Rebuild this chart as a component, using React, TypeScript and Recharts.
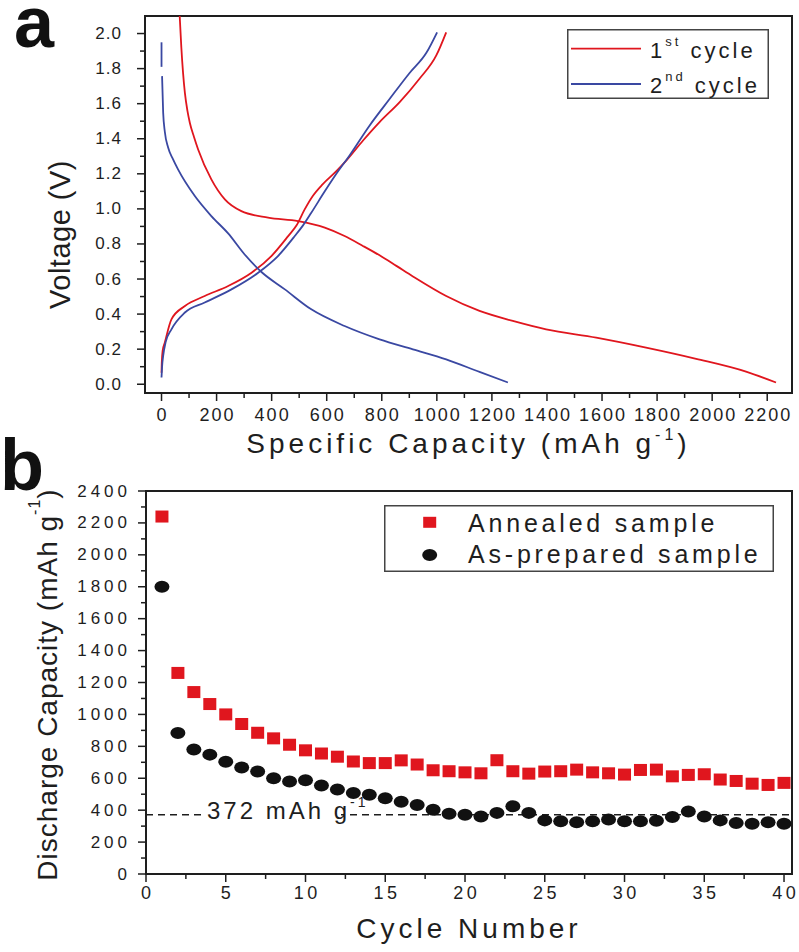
import React from 'react'
import {
  LineChart,
  Line,
  ComposedChart,
  Scatter,
  XAxis,
  YAxis,
  ReferenceArea,
  ReferenceLine,
  Legend,
} from 'recharts'

const FONT = '"Liberation Sans", Arial, Helvetica, sans-serif'
const INK = '#1e1e1e'
const RED = '#e0161e'
const BLUE = '#3a48a2'

// ---- panel a: charge / discharge profiles (mAh g-1 vs V)
const dis1Cap = [66, 72, 78, 85, 94, 103, 118, 133, 181, 230, 290, 387, 496, 593, 665, 730, 792, 853, 913, 1034, 1155, 1276, 1397, 1579, 1760, 1942, 2123, 2232]
const dis1V = [2.1, 1.92, 1.78, 1.66, 1.56, 1.49, 1.41, 1.339, 1.168, 1.054, 0.987, 0.95, 0.93, 0.893, 0.845, 0.79, 0.735, 0.675, 0.615, 0.503, 0.418, 0.361, 0.313, 0.266, 0.209, 0.145, 0.072, 0.01]
const cha1Cap = [0, 1, 4, 12, 36, 85, 157, 242, 327, 399, 460, 490, 520, 550, 585, 635, 671, 732, 792, 865, 937, 998, 1034]
const cha1V = [0.065, 0.124, 0.19, 0.238, 0.37, 0.446, 0.503, 0.56, 0.636, 0.731, 0.845, 0.905, 0.997, 1.075, 1.14, 1.215, 1.275, 1.39, 1.495, 1.609, 1.742, 1.875, 2.007]
const dis2Cap = [2, 6, 12, 24, 42, 60, 121, 181, 242, 302, 363, 448, 544, 665, 792, 913, 1034, 1155, 1258]
const dis2V = [1.757, 1.548, 1.44, 1.35, 1.282, 1.225, 1.073, 0.959, 0.86, 0.74, 0.64, 0.541, 0.427, 0.332, 0.256, 0.199, 0.142, 0.07, 0.01]
const dis2HeadCap = [0, 0]
const dis2HeadV = [1.95, 1.81]
const cha2Cap = [0, 2, 6, 15, 36, 85, 157, 254, 351, 423, 484, 514, 544, 593, 635, 683, 756, 829, 901, 962, 1001]
const cha2V = [0.038, 0.1, 0.161, 0.24, 0.313, 0.409, 0.466, 0.541, 0.636, 0.731, 0.845, 0.906, 0.978, 1.1, 1.2, 1.305, 1.476, 1.628, 1.775, 1.89, 2.007]

const capTicks = [0, 100, 200, 300, 400, 500, 600, 700, 800, 900, 1000, 1100, 1200, 1300, 1400, 1500, 1600, 1700, 1800, 1900, 2000, 2100, 2200]
const voltTicks = [0, 0.1, 0.2, 0.3, 0.4, 0.5, 0.6, 0.7, 0.8, 0.9, 1.0, 1.1, 1.2, 1.3, 1.4, 1.5, 1.6, 1.7, 1.8, 1.9, 2.0]

// ---- panel b: cycling
const cycles = [1, 2, 3, 4, 5, 6, 7, 8, 9, 10, 11, 12, 13, 14, 15, 16, 17, 18, 19, 20, 21, 22, 23, 24, 25, 26, 27, 28, 29, 30, 31, 32, 33, 34, 35, 36, 37, 38, 39, 40]
const annealedCap = [2240, 1260, 1140, 1065, 1000, 940, 885, 850, 810, 775, 755, 735, 705, 695, 695, 712, 686, 650, 644, 637, 631, 713, 644, 629, 642, 644, 654, 637, 631, 623, 652, 654, 612, 621, 625, 592, 583, 566, 558, 571]
const preparedCap = [1800, 884, 780, 748, 704, 667, 642, 600, 579, 587, 554, 529, 508, 497, 474, 453, 433, 403, 378, 372, 361, 383, 424, 383, 336, 330, 324, 330, 341, 330, 330, 334, 357, 391, 361, 336, 320, 315, 324, 315]
const graphiteLimit = 372

const cycleTicks = [0, 2.5, 5, 7.5, 10, 12.5, 15, 17.5, 20, 22.5, 25, 27.5, 30, 32.5, 35, 37.5, 40]
const dcapTicks = [0, 100, 200, 300, 400, 500, 600, 700, 800, 900, 1000, 1100, 1200, 1300, 1400, 1500, 1600, 1700, 1800, 1900, 2000, 2100, 2200, 2300, 2400]

const zip = (xs: number[], ys: number[]) => xs.map((x, i) => ({ x, y: ys[i] }))

function axisTick(
  side: 'left' | 'bottom',
  isMajor: (v: number) => boolean,
  fmt: (v: number) => string,
  fontSize: number,
  spacing: number,
  gap: number,
) {
  return function Tick(props: any) {
    const { x, y, payload } = props
    const v = payload.value as number
    const major = isMajor(v)
    const len = major ? 8 : 5
    const txt = { fontFamily: FONT, fontSize, letterSpacing: spacing, fill: INK }
    if (side === 'left') {
      return (
        <g>
          <line x1={x - len} y1={y} x2={x} y2={y} stroke={INK} strokeWidth={1.5} />
          {major && (
            <text x={x - gap + spacing} y={y} textAnchor="end" dominantBaseline="central" {...txt}>
              {fmt(v)}
            </text>
          )}
        </g>
      )
    }
    return (
      <g>
        <line x1={x} y1={y} x2={x} y2={y + len} stroke={INK} strokeWidth={1.5} />
        {major && (
          <text x={x + spacing / 2} y={y + gap} textAnchor="middle" dominantBaseline="central" {...txt}>
            {fmt(v)}
          </text>
        )}
      </g>
    )
  }
}

function XTitle({ viewBox, text, dy, spacing }: any) {
  const cx = viewBox.x + viewBox.width / 2
  return (
    <text x={cx} y={viewBox.y + dy} textAnchor="middle" fontFamily={FONT} fontSize={28} letterSpacing={spacing} fill={INK}>
      {text}
    </text>
  )
}

function YTitle({ viewBox, cx, shift, fontSize, spacing, children }: any) {
  const cy = viewBox.y + viewBox.height / 2 + shift
  return (
    <text
      x={cx}
      y={cy}
      transform={`rotate(-90, ${cx}, ${cy})`}
      textAnchor="middle"
      dominantBaseline="central"
      fontFamily={FONT}
      fontSize={fontSize}
      letterSpacing={spacing}
      fill={INK}
    >
      {children}
    </text>
  )
}

function LegendA() {
  return (
    <svg width={202} height={70} style={{ display: 'block' }}>
      <rect x={0.75} y={0.75} width={200.5} height={68.5} fill="#fff" stroke="#444" strokeWidth={1.5} />
      <line x1={4} x2={74} y1={19.7} y2={19.7} stroke={RED} strokeWidth={1.8} />
      <line x1={4} x2={74} y1={55} y2={55} stroke={BLUE} strokeWidth={1.8} />
      <text x={83} y={29.3} fontFamily={FONT} fontSize={22} letterSpacing={3} fill={INK}>
        1<tspan fontSize={13} dy={-12}>st</tspan>
        <tspan dy={12}> cycle</tspan>
      </text>
      <text x={83} y={64.3} fontFamily={FONT} fontSize={22} letterSpacing={3} fill={INK}>
        2<tspan fontSize={13} dy={-12}>nd</tspan>
        <tspan dy={12}> cycle</tspan>
      </text>
    </svg>
  )
}

function LegendB() {
  return (
    <svg width={390} height={67} style={{ display: 'block' }}>
      <rect x={0.75} y={0.75} width={388.5} height={65.5} fill="#fff" stroke="#444" strokeWidth={1.5} />
      <rect x={39.2} y={11.8} width={13} height={11} fill={RED} />
      <ellipse cx={45.7} cy={50} rx={7.5} ry={6} fill="#111" />
      <text x={84} y={26.7} fontFamily={FONT} fontSize={25} letterSpacing={3.8} fill={INK}>Annealed sample</text>
      <text x={84} y={58.3} fontFamily={FONT} fontSize={25} letterSpacing={3.8} fill={INK}>As-prepared sample</text>
    </svg>
  )
}

const Square = (p: any) => <rect x={p.cx - 6.5} y={p.cy - 6} width={13} height={12} fill={RED} />
const Blob = (p: any) => <ellipse cx={p.cx} cy={p.cy} rx={7.5} ry={6} fill="#111" />

function LimitLabel({ viewBox }: any) {
  const x0 = viewBox.x + 55
  const y0 = viewBox.y
  return (
    <g>
      <rect x={x0} y={y0 - 5} width={140} height={10} fill="#fff" />
      <text x={x0 + 6} y={y0 + 4.5} fontFamily={FONT} fontSize={24} letterSpacing={3} fill={INK}>
        372 mAh g<tspan fontSize={14} dy={-12}>-1</tspan>
      </text>
    </g>
  )
}

function PanelA() {
  return (
    <LineChart width={799} height={470} margin={{ top: 16, right: 7, bottom: 0, left: 0 }}>
      <XAxis
        type="number"
        dataKey="x"
        domain={[-60, 2290]}
        allowDataOverflow
        ticks={capTicks}
        interval={0}
        height={77}
        tickSize={0}
        tickMargin={0}
        tickLine={false}
        axisLine={{ stroke: INK, strokeWidth: 2 }}
        tick={axisTick('bottom', (v) => v % 200 === 0, (v) => String(v), 18, 2, 22)}
        label={{
          content: (p: any) => (
            <text x={p.viewBox.x + p.viewBox.width / 2} y={p.viewBox.y + 60} textAnchor="middle" fontFamily={FONT} fontSize={28} letterSpacing={4} fill={INK}>
              Specific Capacity (mAh g<tspan fontSize={16} dy={-13}>-1</tspan>
              <tspan dy={13}>)</tspan>
            </text>
          ),
        }}
      />
      <YAxis
        type="number"
        domain={[-0.05, 2.1]}
        allowDataOverflow
        ticks={voltTicks}
        interval={0}
        width={145}
        tickSize={0}
        tickMargin={0}
        tickLine={false}
        axisLine={{ stroke: INK, strokeWidth: 2 }}
        tick={axisTick('left', (v) => Math.round(v * 10) % 2 === 0, (v) => v.toFixed(1), 17, 1, 24)}
        label={{
          content: (p: any) => (
            <YTitle viewBox={p.viewBox} cx={60} shift={30} fontSize={29} spacing={0.5}>
              Voltage (V)
            </YTitle>
          ),
        }}
      />
      <ReferenceArea x1={-60} x2={2290} y1={-0.05} y2={2.1} fill="none" stroke={INK} strokeWidth={2} />
      <Legend verticalAlign="middle" align="center" layout="horizontal" wrapperStyle={{ left: 567, top: 29, width: 202, height: 70 }} content={() => <LegendA />} />
      <Line data={zip(dis1Cap, dis1V)} dataKey="y" name="1st cycle" type="monotone" stroke={RED} strokeWidth={1.8} dot={false} activeDot={false} isAnimationActive={false} />
      <Line data={zip(cha1Cap, cha1V)} dataKey="y" name="1st cycle charge" type="monotone" stroke={RED} strokeWidth={1.8} dot={false} activeDot={false} isAnimationActive={false} legendType="none" />
      <Line data={zip(dis2HeadCap, dis2HeadV)} dataKey="y" name="2nd head" type="linear" stroke={BLUE} strokeWidth={1.8} dot={false} activeDot={false} isAnimationActive={false} legendType="none" />
      <Line data={zip(dis2Cap, dis2V)} dataKey="y" name="2nd cycle" type="monotone" stroke={BLUE} strokeWidth={1.8} dot={false} activeDot={false} isAnimationActive={false} />
      <Line data={zip(cha2Cap, cha2V)} dataKey="y" name="2nd cycle charge" type="monotone" stroke={BLUE} strokeWidth={1.8} dot={false} activeDot={false} isAnimationActive={false} legendType="none" />
    </LineChart>
  )
}

function PanelB() {
  const annealed = cycles.map((c, i) => ({ cycle: c, cap: annealedCap[i] }))
  const prepared = cycles.map((c, i) => ({ cycle: c, cap: preparedCap[i] }))
  return (
    <ComposedChart width={799} height={482} margin={{ top: 21, right: 7, bottom: 0, left: 0 }}>
      <XAxis
        type="number"
        dataKey="cycle"
        domain={[0, 40.5]}
        allowDataOverflow
        ticks={cycleTicks}
        interval={0}
        height={78}
        tickSize={0}
        tickMargin={0}
        tickLine={false}
        axisLine={{ stroke: INK, strokeWidth: 2 }}
        tick={axisTick('bottom', (v) => v % 5 === 0, (v) => String(v), 18, 3.5, 19)}
        label={{ content: (p: any) => <XTitle viewBox={p.viewBox} text="Cycle Number" dy={64} spacing={4} /> }}
      />
      <YAxis
        type="number"
        dataKey="cap"
        domain={[0, 2400]}
        allowDataOverflow
        ticks={dcapTicks}
        interval={0}
        width={146}
        tickSize={0}
        tickMargin={0}
        tickLine={false}
        axisLine={{ stroke: INK, strokeWidth: 2 }}
        tick={axisTick('left', (v) => v % 200 === 0, (v) => String(v), 17, 4, 19)}
        label={{
          content: (p: any) => (
            <YTitle viewBox={p.viewBox} cx={47} shift={2} fontSize={28} spacing={1}>
              Discharge Capacity (mAh g<tspan fontSize={16} dy={-13}>-1</tspan>
              <tspan dy={13}>)</tspan>
            </YTitle>
          ),
        }}
      />
      <ReferenceArea x1={0} x2={40.5} y1={0} y2={2400} fill="none" stroke={INK} strokeWidth={2} />
      <ReferenceLine y={graphiteLimit} stroke={INK} strokeWidth={1.5} strokeDasharray="7 5" label={{ content: (p: any) => <LimitLabel viewBox={p.viewBox} /> }} />
      <Legend verticalAlign="middle" align="center" layout="horizontal" wrapperStyle={{ left: 384, top: 35, width: 390, height: 67 }} content={() => <LegendB />} />
      <Scatter data={annealed} dataKey="cap" name="Annealed sample" shape={Square} isAnimationActive={false} />
      <Scatter data={prepared} dataKey="cap" name="As-prepared sample" shape={Blob} isAnimationActive={false} />
    </ComposedChart>
  )
}

export default function App() {
  return (
    <div style={{ position: 'absolute', left: 0, top: 0, width: 799, height: 952, background: '#fff' }}>
      <div style={{ position: 'absolute', left: 0, top: 0 }}>
        <PanelA />
      </div>
      <div style={{ position: 'absolute', left: 0, top: 470 }}>
        <PanelB />
      </div>
      <svg width={799} height={952} style={{ position: 'absolute', left: 0, top: 0, pointerEvents: 'none' }}>
        <text x={14} y={47} fontFamily={FONT} fontWeight="bold" fontSize={72} fill="#111">a</text>
        <text x={0} y={490} fontFamily={FONT} fontWeight="bold" fontSize={72} fill="#111">b</text>
      </svg>
    </div>
  )
}
